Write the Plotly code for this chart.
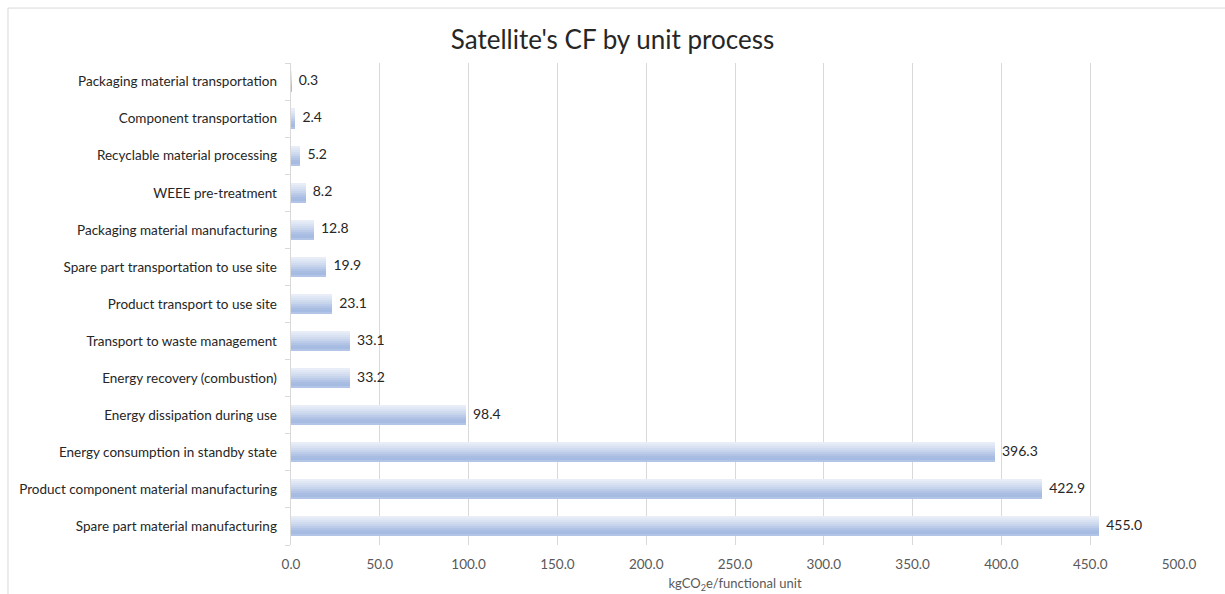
import plotly.graph_objects as go

categories = [
    "Spare part material manufacturing",
    "Product component material manufacturing",
    "Energy consumption in standby state",
    "Energy dissipation during use",
    "Energy recovery (combustion)",
    "Transport to waste management",
    "Product transport to use site",
    "Spare part transportation to use site",
    "Packaging material manufacturing",
    "WEEE pre-treatment",
    "Recyclable material processing",
    "Component transportation",
    "Packaging material transportation",
]
values = [455.0, 422.9, 396.3, 98.4, 33.2, 33.1, 23.1, 19.9, 12.8, 8.2, 5.2, 2.4, 0.3]
x_ticks = [0, 50, 100, 150, 200, 250, 300, 350, 400, 450, 500]
x_tick_labels = [f"{v:.1f}" for v in x_ticks]

FONT = "Lato"

# gradient bands (bottom -> top) to mimic the Excel light gradient fill
band_colors = ["#b3c5e6", "#a6bbe2", "#a9bde3", "#b2c4e6", "#bccbe9",
               "#c6d4ec", "#d0dbf0", "#d9e2f3", "#e1e8f5", "#e8edf7"]
bar_w = 0.54
n = len(band_colors)

fig = go.Figure()
for i, c in enumerate(band_colors):
    fig.add_trace(go.Bar(
        y=categories, x=values, orientation="h",
        width=[bar_w / n + 0.004] * len(values),
        offset=[-bar_w / 2 + i * bar_w / n] * len(values),
        marker=dict(color=c, line=dict(width=0)),
        showlegend=False, hoverinfo="skip",
    ))

fig.add_trace(go.Scatter(
    y=categories, x=values, mode="text",
    text=[f"  {v:.1f}" for v in values],
    textposition="middle right",
    textfont=dict(family=FONT, size=14, color="#262626"),
    showlegend=False, hoverinfo="skip", cliponaxis=False,
))

fig.update_layout(
    width=1225, height=594,
    margin=dict(l=291, r=46, t=63, b=49),
    paper_bgcolor="white", plot_bgcolor="white",
    barmode="overlay", bargap=0,
    title=dict(text="Satellite's CF by unit process", x=0.5, xanchor="center",
               y=0.933, yanchor="middle",
               font=dict(family=FONT, size=26, color="#262626")),
    xaxis=dict(range=[0, 500], tickvals=x_ticks, ticktext=x_tick_labels,
               showgrid=True, gridcolor="#d9d9d9", gridwidth=1,
               zeroline=False, showline=False, ticks="",
               ticklabelstandoff=9, automargin=False,
               tickfont=dict(family=FONT, size=13.5, color="#595959"),
               title=dict(text="kgCO<sub>2</sub>e/functional unit", standoff=8,
                          font=dict(family=FONT, size=13, color="#595959"))),
    yaxis=dict(type="category", categoryorder="array", categoryarray=categories,
               range=[-0.5, len(categories) - 0.5],
               showline=True, linecolor="#d9d9d9", linewidth=1,
               ticks="outside", tickson="boundaries", ticklen=5, tickcolor="#d9d9d9",
               showgrid=False, zeroline=False, ticksuffix="   ", automargin=False,
               tickfont=dict(family=FONT, size=13.5, color="#262626")),
    shapes=[dict(type="rect", xref="paper", yref="paper",
                 x0=-0.3187, x1=1.2, y0=-0.3, y1=1.114,
                 line=dict(color="#d9d9d9", width=1), layer="below")],
)

fig.write_html("out.html")
